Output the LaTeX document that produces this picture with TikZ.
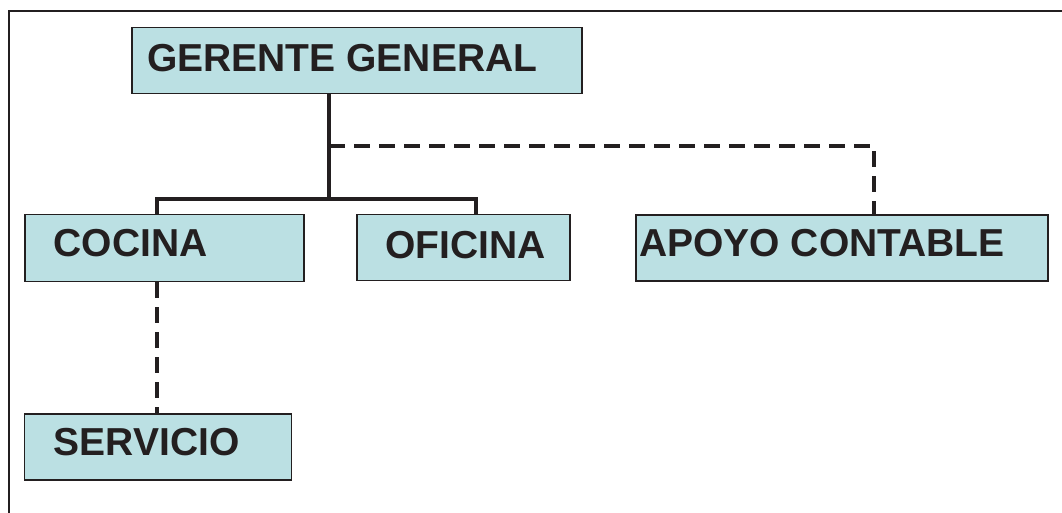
\documentclass[tikz,border=0pt]{standalone}
\usepackage{fontspec}
\setmainfont{Liberation Sans}
\definecolor{boxfill}{HTML}{BBE0E3}
\definecolor{ink}{HTML}{231F20}
\begin{document}
\begin{tikzpicture}[x=1pt,y=-1pt,
  box/.style={draw=ink, line width=1.8pt, fill=boxfill, inner sep=0pt, anchor=north west},
  lbl/.style={text=ink, font=\fontsize{39}{44}\selectfont\bfseries, inner sep=0pt, anchor=base west},
  conn/.style={draw=ink, line width=3.5pt},
  dconn/.style={draw=ink, line width=3.5pt, dash pattern=on 16pt off 9pt}]
\useasboundingbox (0,0) rectangle (1062,512);
\draw[draw=ink, line width=2.8pt] (9,513) -- (9,11) -- (1063,11);
% boxes
\node[box, minimum width=450pt, minimum height=66pt] (ger) at (131,26.5) {};
\node[box, minimum width=279pt, minimum height=67pt] (coc) at (24,213.5) {};
\node[box, minimum width=213pt, minimum height=66pt] (ofi) at (356,213.5) {};
\node[box, minimum width=412pt, minimum height=66pt] (apo) at (635,214) {};
\node[box, minimum width=267pt, minimum height=66pt] (ser) at (23.5,413) {};
% labels
\node[lbl] (tger) at (147,71.5) {GERENTE GENERAL};
\node[lbl] (tcoc) at (53.5,256.5) {COCINA};
\node[lbl] (tofi) at (385,258.3) {OFICINA};
\node[lbl] (tapo) at (639,256.5) {APOYO CONTABLE};
\node[lbl] (tser) at (53.5,455) {SERVICIO};
% connector points
\coordinate (j) at (329,199);
\coordinate (c1) at (157,199);
\coordinate (o1) at (476,199);
\coordinate (d1) at (329,146);
\coordinate (d2) at (874,146);
% connectors
\draw[conn] (ger.south -| j) -- (j);
\draw[conn] (coc.north -| c1) |- (j) -| (ofi.north -| o1);
\draw[dconn] (d1) -| (apo.north -| d2);
\draw[dconn] (coc.south -| c1) -- (ser.north -| c1);
\end{tikzpicture}
\end{document}
